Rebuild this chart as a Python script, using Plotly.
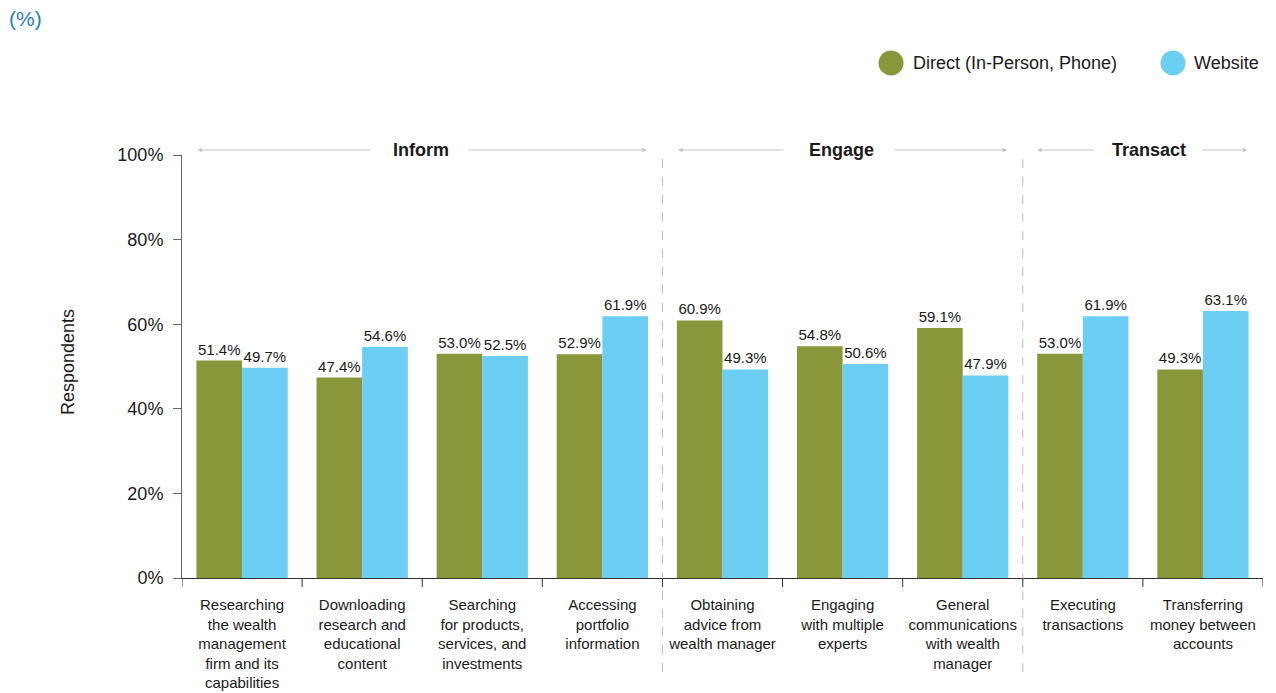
import plotly.graph_objects as go

# Channel preference by activity
categories = [
    "Researching<br>the wealth<br>management<br>firm and its<br>capabilities",
    "Downloading<br>research and<br>educational<br>content",
    "Searching<br>for products,<br>services, and<br>investments",
    "Accessing<br>portfolio<br>information",
    "Obtaining<br>advice from<br>wealth manager",
    "Engaging<br>with multiple<br>experts",
    "General<br>communications<br>with wealth<br>manager",
    "Executing<br>transactions",
    "Transferring<br>money between<br>accounts",
]
direct = [51.4, 47.4, 53.0, 52.9, 60.9, 54.8, 59.1, 53.0, 49.3]
website = [49.7, 54.6, 52.5, 61.9, 49.3, 50.6, 47.9, 61.9, 63.1]
series_names = ["Direct (In-Person, Phone)", "Website"]
y_ticks = [0, 20, 40, 60, 80, 100]

GREEN = "#8A963A"
BLUE = "#6BCEF2"
TEXT = "#1a1a1a"
FONT = "Liberation Sans, Arial, sans-serif"

W, H = 1276, 693
ML, MR, MT, MB = 182, 13, 155, 115
PW = W - ML - MR
PH = H - MT - MB


def px_x(p):
    return (p - ML) / PW


def px_y(p):
    return (H - MB - p) / PH


fig = go.Figure()
for name, vals, col in [(series_names[0], direct, GREEN), (series_names[1], website, BLUE)]:
    fig.add_trace(go.Bar(
        name=name, x=list(range(len(categories))), y=vals, marker_color=col,
        marker_line_width=0,
        text=[f"{v:.1f}%" for v in vals], textposition="outside",
        textfont=dict(size=15, color=TEXT, family=FONT),
        cliponaxis=False, showlegend=False,
    ))

shapes = []
annotations = []

# Section dividers
for xb in [3.5, 6.5]:
    shapes.append(dict(type="line", xref="x", yref="paper", x0=xb, x1=xb,
                       y0=px_y(672), y1=1.0, line=dict(color="#bdbdbd", width=1, dash="dash")))

# Boundary tick marks on the category axis
for i in range(len(categories) + 1):
    shapes.append(dict(type="line", xref="x", yref="paper", x0=i - 0.5, x1=i - 0.5,
                       y0=0, y1=-9 / PH, line=dict(color="#333333", width=1)))

# Section headers with arrows
ARROW = "#c4c4c4"
HY = px_y(150)
sections = [
    ("Inform", 1.49, (-0.37, 1.08), (1.87, 3.37)),
    ("Engage", 4.99, (3.63, 4.52), (5.42, 6.37)),
    ("Transact", 7.55, (6.62, 7.10), (7.98, 8.37)),
]
for label, xc, (l_end, l_start), (r_start, r_end) in sections:
    annotations.append(dict(x=xc, y=HY, xref="x", yref="paper", text=f"<b>{label}</b>",
                            xanchor="center", yanchor="middle",
                            showarrow=False, font=dict(size=18, color=TEXT, family=FONT)))
    for tip, tail in [(l_end, l_start), (r_end, r_start)]:
        annotations.append(dict(x=tip, y=HY, ax=tail, ay=0, xref="x", yref="paper",
                                axref="x", ayref="pixel", text="", showarrow=True,
                                arrowhead=2, arrowsize=0.9, arrowwidth=1, arrowcolor=ARROW))

# Unit label
annotations.append(dict(x=px_x(7), y=px_y(18), xref="paper", yref="paper",
                        xanchor="left", yanchor="middle", text="(%)", showarrow=False,
                        font=dict(size=21, color="#2E7DB5", family=FONT)))

# Legend (circle swatches)
for (cx, tx, col, name) in [(891, 911, GREEN, series_names[0]), (1173, 1192, BLUE, series_names[1])]:
    shapes.append(dict(type="circle", xref="paper", yref="paper", xsizemode="pixel", ysizemode="pixel",
                       xanchor=px_x(cx), yanchor=px_y(63), x0=-12.5, x1=12.5, y0=-12.5, y1=12.5,
                       fillcolor=col, line=dict(width=0)))
    annotations.append(dict(x=px_x(tx), y=px_y(63), xref="paper", yref="paper", xanchor="left",
                            yanchor="middle", text=name, showarrow=False,
                            font=dict(size=18, color=TEXT, family=FONT)))

# Y-axis title
annotations.append(dict(x=px_x(68), y=px_y(362), xref="paper", yref="paper", text="Respondents",
                        xanchor="center", yanchor="middle",
                        textangle=-90, showarrow=False, font=dict(size=18, color=TEXT, family=FONT)))

fig.update_layout(
    width=W, height=H,
    margin=dict(l=ML, r=MR, t=MT, b=MB, autoexpand=False),
    paper_bgcolor="white", plot_bgcolor="white",
    barmode="group", bargap=0.24, bargroupgap=0,
    font=dict(family=FONT, color=TEXT),
    shapes=shapes, annotations=annotations,
    showlegend=False,
)
fig.update_xaxes(
    tickmode="array", tickvals=list(range(len(categories))), ticktext=categories,
    range=[-0.5, len(categories) - 0.5],
    showline=True, linecolor="#333333", linewidth=1,
    ticks="", showgrid=False, zeroline=False, ticklabelstandoff=13,
    tickfont=dict(size=15, color=TEXT, family=FONT), tickangle=0,
)
fig.update_yaxes(
    range=[0, 100], tickmode="array", tickvals=y_ticks, ticktext=[f"{v}%" for v in y_ticks],
    showline=True, linecolor="#666666", linewidth=1, ticks="outside", ticklen=8,
    tickcolor="#666666", showgrid=False, zeroline=False, ticklabelstandoff=6,
    tickfont=dict(size=18, color=TEXT, family=FONT),
)

fig.write_html("out.html")
